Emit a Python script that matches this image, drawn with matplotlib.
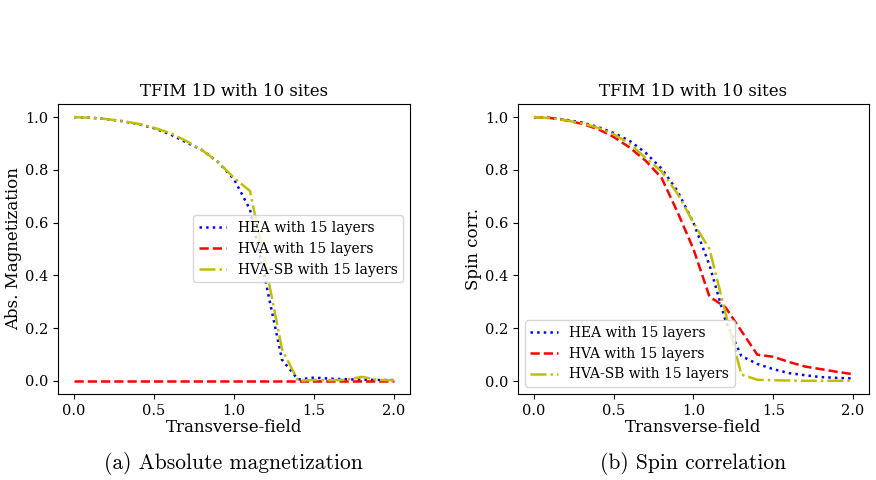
import numpy as np
import matplotlib
matplotlib.use("Agg")
import matplotlib.pyplot as plt

plt.rcParams["font.family"] = "DejaVu Serif"

fields = np.round(np.arange(0.0, 2.01, 0.1), 1)

# absolute magnetization
mag_hea = [1.0, 0.998, 0.993, 0.985, 0.974, 0.958, 0.935, 0.905, 0.875, 0.83, 0.765,
           0.65, 0.37, 0.08, 0.005, 0.012, 0.008, 0.006, 0.004, 0.003, 0.003]
mag_hva = [0.0] * 21
mag_hva_sb = [1.0, 0.998, 0.993, 0.985, 0.975, 0.96, 0.94, 0.91, 0.875, 0.83, 0.77,
              0.72, 0.43, 0.12, 0.0, 0.003, 0.002, 0.004, 0.015, 0.003, 0.002]

# spin correlation
corr_hea = [1.0, 0.998, 0.99, 0.98, 0.963, 0.94, 0.91, 0.865, 0.805, 0.72, 0.6,
            0.44, 0.23, 0.095, 0.065, 0.045, 0.03, 0.022, 0.015, 0.012, 0.01]
corr_hva = [1.0, 0.997, 0.988, 0.975, 0.955, 0.925, 0.885, 0.835, 0.77, 0.64, 0.5,
            0.32, 0.28, 0.19, 0.1, 0.092, 0.072, 0.055, 0.045, 0.035, 0.026]
corr_hva_sb = [1.0, 0.997, 0.988, 0.977, 0.96, 0.935, 0.9, 0.845, 0.795, 0.71, 0.6,
               0.5, 0.26, 0.025, 0.005, 0.003, 0.002, 0.001, 0.001, 0.001, 0.001]

labels = ["HEA with 15 layers", "HVA with 15 layers", "HVA-SB with 15 layers"]
styles = [("b", ":"), ("r", "--"), ("y", "-.")]

fig = plt.figure(figsize=(8.76, 4.8), dpi=100)
ax1 = fig.add_axes([0.0662, 0.1792, 0.4018, 0.6042])
ax2 = fig.add_axes([0.5913, 0.1792, 0.4007, 0.6042])

for ax, series, ylabel, loc in [
    (ax1, [mag_hea, mag_hva, mag_hva_sb], "Abs. Magnetization", "center right"),
    (ax2, [corr_hea, corr_hva, corr_hva_sb], "Spin corr.", "lower left"),
]:
    for vals, lab, (c, ls) in zip(series, labels, styles):
        ax.plot(fields, vals, color=c, linestyle=ls, linewidth=1.8, label=lab)
    ax.set_title("TFIM 1D with 10 sites", fontsize=12)
    ax.set_xlabel("Transverse-field", fontsize=12, labelpad=1)
    ax.set_ylabel(ylabel, fontsize=12, labelpad=2)
    ax.set_xticks([0.0, 0.5, 1.0, 1.5, 2.0])
    ax.set_yticks([0.0, 0.2, 0.4, 0.6, 0.8, 1.0])
    ax.tick_params(labelsize=10.5)
    ax.legend(loc=loc, fontsize=10)

fig.text(0.266, 0.022, "(a) Absolute magnetization", family="cmr10", fontsize=15.5,
         ha="center")
fig.text(0.791, 0.022, "(b) Spin correlation", family="cmr10", fontsize=15.5,
         ha="center")

fig.savefig("out.png", dpi=100)
